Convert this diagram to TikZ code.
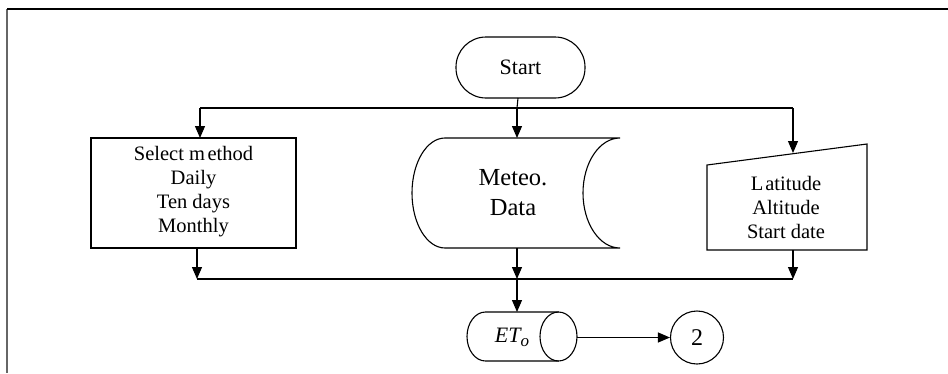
\documentclass[tikz,border=0pt]{standalone}
\usepackage{fontspec}
\setmainfont{Liberation Serif}
\usetikzlibrary{arrows.meta}
\begin{document}
\begin{tikzpicture}[x=1pt,y=-1pt,
  line width=1.1pt,
  arr/.style={-{Triangle[length=12pt,width=10pt]}},
  txt/.style={align=center,inner sep=0pt,font=\fontsize{20.5}{24}\selectfont}]
\useasboundingbox (0,0) rectangle (948,373);

% page frame
\draw[black!60,line width=1.6pt] (7,9) -- (7,373);
\draw[line width=1.4pt] (7,9) -- (948,9);

% Start terminal
\draw[rounded corners=30pt] (456,37) rectangle (585,98);
\node[txt,font=\fontsize{22}{26}\selectfont] (start) at (520.5,67.5) {Start};
\coordinate (startB) at (518,98);

% method selection box
\draw (91,138) rectangle (296,248);
\node[txt] (sel) at (193.5,192) {Select m\kern2.5pt ethod\\Daily\\Ten days\\Monthly};

% stored data
\draw (445,138) -- (620,138)
      arc[start angle=270,end angle=90,x radius=37,y radius=55]
      -- (445,248)
      arc[start angle=90,end angle=270,x radius=33,y radius=55];
\node[txt,font=\fontsize{24.5}{30}\selectfont] (met) at (513,193) {Meteo.\\Data};

% manual input
\draw (707,165) -- (867,144) -- (867,250) -- (707,250) -- cycle;
\node[txt] (loc) at (786,207) {L\kern2pt atitude\\Altitude\\Start date};

% ETo store
\draw (485.5,312) -- (558.5,312) (558.5,361) -- (485.5,361)
      arc[start angle=90,end angle=270,x radius=18.5,y radius=24.5];
\draw (558.5,336.5) ellipse[x radius=18.5,y radius=24.5];
\node[inner sep=0pt,font=\fontsize{22}{26}\selectfont\itshape] (eto) at (512,337)
  {ET\raisebox{-4pt}{\fontsize{17}{17}\selectfont o}};

% connector circle
\node[draw,circle,minimum size=53pt,inner sep=0pt,font=\fontsize{24}{28}\selectfont] (two) at (697,337.5) {2};

% bus lines
\coordinate (topL) at (200,108);
\coordinate (topM) at (517,108);
\coordinate (topR) at (793,108);
\coordinate (botL) at (197,279);
\coordinate (botM) at (517,279);
\coordinate (botR) at (793,279);

\draw (startB) -- (topM);
\draw (topL) -- (topR);
\draw[arr] (topL) -- (200,138);
\draw[arr] (topM) -- (517,138);
\draw[arr] (topR) -- (793,153);

\draw[arr] (197,248) -- (botL);
\draw[arr] (517,248) -- (botM);
\draw[arr] (793,250) -- (botR);
\draw (botL) -- (botR);

\draw[arr] (botM) -- (517,312);
\draw[arr] (577,337.5) -- (two.west);
\end{tikzpicture}
\end{document}
